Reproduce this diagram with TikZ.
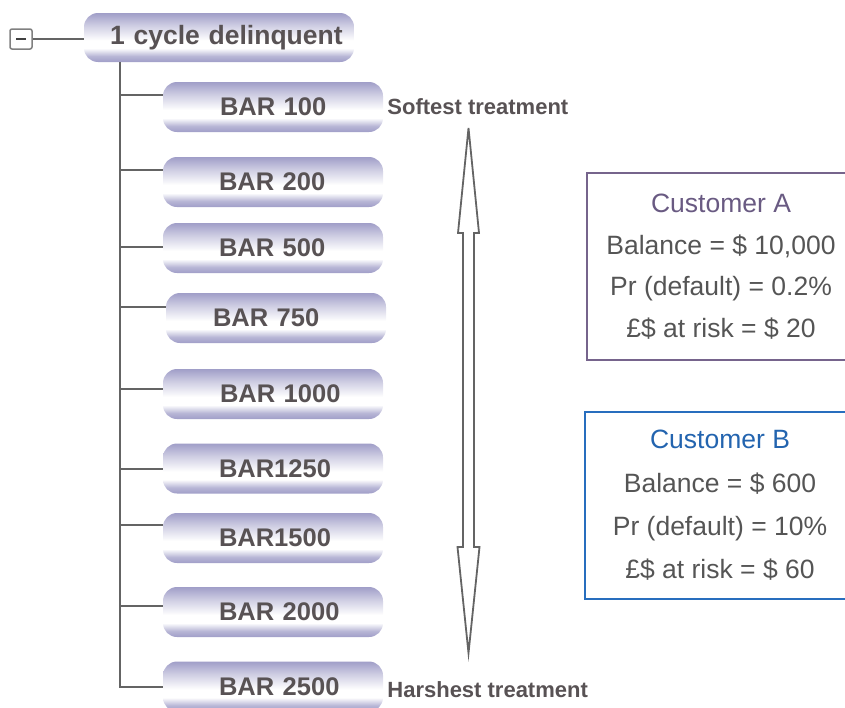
\documentclass[tikz,border=0pt]{standalone}
\usepackage{fontspec}
\setmainfont{Liberation Sans}
\definecolor{lav}{RGB}{160,158,200}
\colorlet{lavA}{lav!75!white}
\colorlet{lavB}{lav!50!white}
\definecolor{txt}{RGB}{88,82,84}
\definecolor{boxtxt}{RGB}{85,85,85}
\definecolor{purp}{RGB}{118,100,140}
\definecolor{purptxt}{RGB}{105,90,130}
\definecolor{blu}{RGB}{40,110,190}
\definecolor{blutxt}{RGB}{35,100,175}
\definecolor{linegray}{RGB}{100,100,100}
\pgfdeclareverticalshading{barshade}{100bp}{color(0bp)=(lav); color(25bp)=(lav); color(31bp)=(lavA); color(39bp)=(white); color(47bp)=(white); color(62bp)=(lavB); color(75bp)=(lav); color(100bp)=(lav)}
\tikzset{
  barbox/.style={shape=rectangle, rounded corners=14pt, shading=barshade,
    minimum width=220pt, minimum height=50pt, inner sep=0pt, text width=220pt,
    align=left, font=\fontsize{25.5}{30}\selectfont\bfseries, text=txt},
  rootbox/.style={barbox, minimum width=270pt, text width=270pt, minimum height=49pt,
    font=\fontsize{26.5}{30}\selectfont\bfseries},
  tree/.style={draw=linegray, line width=2pt},
  treatlbl/.style={font=\fontsize{22}{24}\selectfont\bfseries, text=txt, inner sep=0pt},
  custbox/.style={shape=rectangle, line width=2.2pt, minimum height=187pt, inner sep=0pt,
    align=center, font=\fontsize{26.5}{41.5}\selectfont, text=boxtxt},
  togglebox/.style={shape=rectangle, draw=gray, line width=1.5pt, fill=white,
    rounded corners=2pt, minimum width=22pt, minimum height=20pt, inner sep=0pt},
  bigarrow/.style={draw=linegray, line width=1.8pt, fill=white, line join=miter}
}
\begin{document}
\begin{tikzpicture}[x=1pt, y=-1pt]
\useasboundingbox (0,0) rectangle (845,707);

% root and toggle
\node[rootbox] (root) at (219,37.5) {\hspace*{26pt}1 cycle delinquent};
\node[togglebox] (tog) at (21,39) {};
\draw[line width=2.5pt, draw=black!75] ([xshift=-5pt]tog.center) -- ([xshift=5pt]tog.center);
\draw[tree] (tog.east) -- (tog.east -| root.west);

% bars
\node[barbox] (b100)  at (273,107)   {\hspace*{57pt}BAR 100};
\node[barbox] (b200)  at (273,182)   {\hspace*{56pt}BAR 200};
\node[barbox] (b500)  at (273,248)   {\hspace*{56pt}BAR 500};
\node[barbox] (b750)  at (276,318)   {\hspace*{47pt}BAR 750};
\node[barbox] (b1000) at (273,394)   {\hspace*{57pt}BAR 1000};
\node[barbox] (b1250) at (273,468.5) {\hspace*{56pt}BAR1250};
\node[barbox] (b1500) at (273,538)   {\hspace*{56pt}BAR1500};
\node[barbox] (b2000) at (273,612)   {\hspace*{56pt}BAR 2000};
\node[barbox] (b2500) at (273,686.5) {\hspace*{56pt}BAR 2500};

% tree connectors
\coordinate (tt) at ([xshift=36pt]root.south west);
\draw[tree] (tt) |- (b2500.west);
\foreach \n/\o in {b100/12, b200/12, b500/1, b750/11, b1000/5, b1250/0, b1500/13, b2000/6}{
  \coordinate (j\n) at ([yshift=\o pt]\n.west);
  \draw[tree] (tt |- j\n) -- (j\n);
}

% treatment labels
\node[treatlbl, anchor=west] (soft) at ([xshift=4pt]b100.east) {Softest treatment};
\node[treatlbl, anchor=west] (harsh) at ([xshift=4pt,yshift=-3pt]b2500.east) {Harshest treatment};

% double arrow
\draw[bigarrow] (468.5,128) -- (479,233) -- (474,233) -- (474,547) -- (479.5,547)
  -- (468.5,653) -- (457.5,547) -- (463,547) -- (463,233) -- (458,233) -- cycle;

% customer boxes
\node[custbox, draw=purp, minimum width=268pt] (custA) at (721,266.5)
  {\textcolor{purptxt}{Customer A}\\Balance = \$ 10,000\\Pr (default) = 0.2\%\\£\$ at risk = \$ 20};
\node[custbox, draw=blu, minimum width=270pt, font=\fontsize{26.5}{43.3}\selectfont] (custB) at (720,505.5)
  {\textcolor{blutxt}{Customer B}\\Balance = \$ 600\\Pr (default) = 10\%\\£\$ at risk = \$ 60};
\end{tikzpicture}
\end{document}
